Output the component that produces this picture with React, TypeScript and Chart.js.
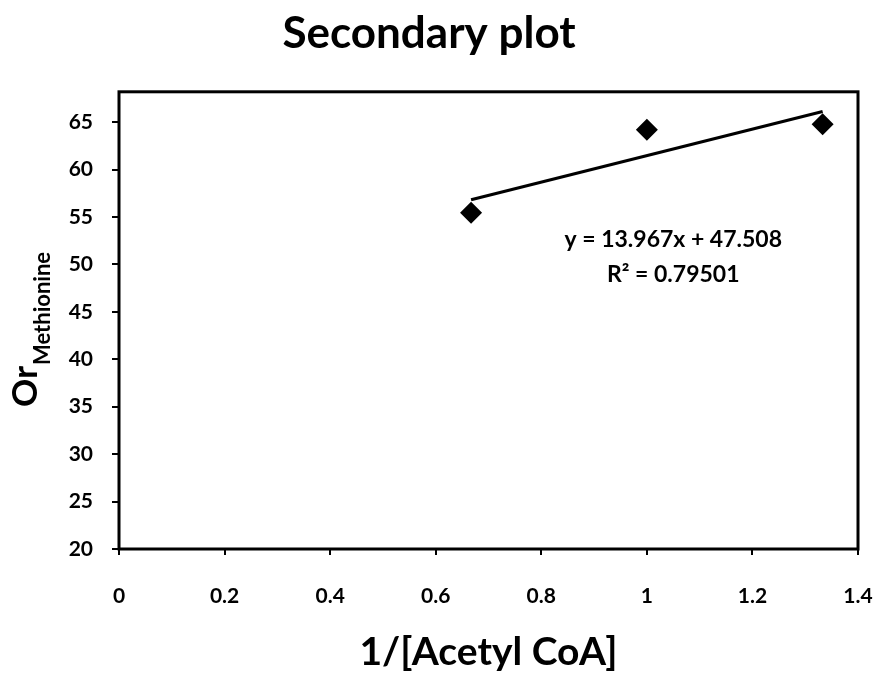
import React, { useEffect, useRef } from "react";
import { Chart, registerables } from "chart.js";

Chart.register(...registerables);

// ---- data ----
const xValues = [0.667, 1.0, 1.333];
const yValues = [55.46, 64.2, 64.77];
const trendX = [0.667, 1.333];
const trendY = [56.82, 66.13];
const xTicks = [0, 0.2, 0.4, 0.6, 0.8, 1, 1.2, 1.4];
const yTicks = [20, 25, 30, 35, 40, 45, 50, 55, 60, 65];
const titleText = "Secondary plot";
const xTitle = "1/[Acetyl CoA]";
const yTitleMain = "Or";
const yTitleSub = "Methionine";
const equationLines = ["y = 13.967x + 47.508", "R² = 0.79501"];

const FONT = "Lato, 'Open Sans', sans-serif";

const framePlugin = {
  id: "frame",
  afterDraw(chart: any) {
    const { ctx, chartArea: a } = chart;
    ctx.save();
    ctx.strokeStyle = "#000";
    ctx.lineWidth = 3;
    ctx.strokeRect(a.left, a.top, a.right - a.left, a.bottom - a.top);
    ctx.restore();
  },
};

const yTitlePlugin = {
  id: "yTitle",
  afterDraw(chart: any) {
    const { ctx } = chart;
    ctx.save();
    ctx.translate(37, 407);
    ctx.rotate(-Math.PI / 2);
    ctx.fillStyle = "#000";
    ctx.textBaseline = "alphabetic";
    ctx.textAlign = "left";
    ctx.font = `bold 35px ${FONT}`;
    ctx.fillText(yTitleMain, 0, 0);
    const w = ctx.measureText(yTitleMain).width;
    ctx.font = `bold 22px ${FONT}`;
    ctx.fillText(yTitleSub, w + 1, 13);
    ctx.restore();
  },
};

const equationPlugin = {
  id: "equation",
  afterDraw(chart: any) {
    const { ctx, scales } = chart;
    const px = scales.x.getPixelForValue(1.05);
    const anchorsY = [52.6, 48.9];
    ctx.save();
    ctx.fillStyle = "#000";
    ctx.font = `bold 23px ${FONT}`;
    ctx.textAlign = "center";
    ctx.textBaseline = "middle";
    equationLines.forEach((line, i) => {
      ctx.fillText(line, px, scales.y.getPixelForValue(anchorsY[i]));
    });
    ctx.restore();
  },
};

export default function App() {
  const canvasRef = useRef<HTMLCanvasElement | null>(null);

  useEffect(() => {
    if (!canvasRef.current) return;
    const chart = new Chart(canvasRef.current, {
      type: "scatter",
      data: {
        datasets: [
          {
            label: "Data",
            data: xValues.map((x, i) => ({ x, y: yValues[i] })),
            pointStyle: "rectRot",
            pointRadius: 11,
            pointBackgroundColor: "#000",
            pointBorderColor: "#000",
            pointBorderWidth: 0,
            showLine: false,
            order: 1,
          },
          {
            label: "Trend",
            data: trendX.map((x, i) => ({ x, y: trendY[i] })),
            showLine: true,
            borderColor: "#000",
            borderWidth: 3,
            pointRadius: 0,
            fill: false,
            order: 0,
          },
        ],
      },
      options: {
        animation: false,
        responsive: false,
        devicePixelRatio: 1,
        layout: { padding: { left: 0, right: 19, top: 0, bottom: 0 } },
        plugins: {
          legend: { display: false },
          tooltip: { enabled: false },
          title: {
            display: true,
            text: titleText,
            color: "#000",
            font: { family: FONT, size: 44, weight: "bold", lineHeight: 1.2 },
            padding: { top: 7, bottom: 32 },
          },
        },
        scales: {
          x: {
            type: "linear",
            min: 0,
            max: 1.4,
            afterBuildTicks: (s: any) => {
              s.ticks = xTicks.map((v) => ({ value: v }));
            },
            afterFit: (s: any) => {
              s.height = 128;
              s.paddingLeft = 0;
              s.paddingRight = 0;
            },
            ticks: {
              color: "#000",
              font: { family: FONT, size: 21, weight: "bold", lineHeight: 1.2 },
              padding: 29,
              maxRotation: 0,
              callback: (v: any) => String(v),
            },
            grid: {
              display: true,
              drawOnChartArea: false,
              drawTicks: true,
              tickLength: 6,
              color: "#000",
              lineWidth: 2,
            },
            border: { display: false },
            title: {
              display: true,
              text: xTitle,
              color: "#000",
              font: { family: FONT, size: 39, weight: "bold", lineHeight: 1.2 },
              padding: { top: 0, bottom: 1 },
            },
          },
          y: {
            type: "linear",
            min: 20,
            max: 68.2,
            afterBuildTicks: (s: any) => {
              s.ticks = yTicks.map((v) => ({ value: v }));
            },
            afterFit: (s: any) => {
              s.width = 119;
              s.paddingTop = 0;
              s.paddingBottom = 0;
            },
            ticks: {
              color: "#000",
              font: { family: FONT, size: 21, weight: "bold" },
              padding: 19,
              callback: (v: any) => String(v),
            },
            grid: {
              display: true,
              drawOnChartArea: false,
              drawTicks: true,
              tickLength: 7,
              color: "#000",
              lineWidth: 2,
            },
            border: { display: false },
          },
        },
      },
      plugins: [framePlugin, yTitlePlugin, equationPlugin],
    } as any);
    return () => chart.destroy();
  }, []);

  return (
    <div style={{ position: "fixed", left: 0, top: 0, width: 877, height: 677, background: "#fff" }}>
      <canvas ref={canvasRef} width={877} height={677} style={{ display: "block" }} />
    </div>
  );
}
